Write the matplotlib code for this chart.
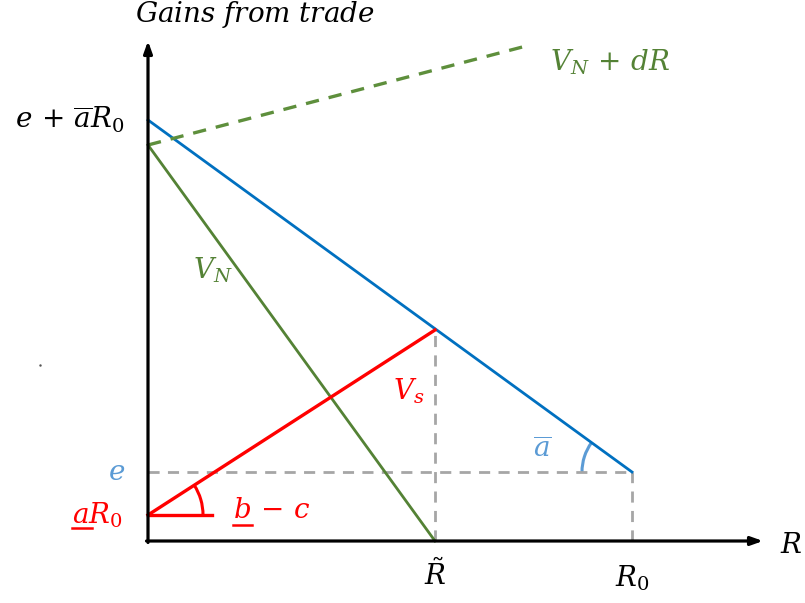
import numpy as np
import matplotlib
matplotlib.use("Agg")
import matplotlib.pyplot as plt
from matplotlib.patches import Arc

plt.rcParams["mathtext.fontset"] = "dejavuserif"

# schematic values (diagram units, origin at the axes corner)
R_tilde = 287
R0 = 484
e = 69
aR0_low = 26          # underline-a * R0
top_blue = 421        # e + abar*R0
vn_icpt = 396         # V_N intercept
vn_dR_end = (382, 496)
vs_peak = 211

BLUE = "#0070C0"
LBLUE = "#5B9BD5"
GREEN = "#548235"
RED = "#FF0000"
GRAY = "#A6A6A6"

fig = plt.figure(figsize=(8.05, 6.03), dpi=100)
ax = fig.add_axes([0, 0, 1, 1])
ax.set_xlim(-148, 657)
ax.set_ylim(-62, 541)
ax.axis("off")

# axes arrows
ax.annotate("", xy=(0, 500), xytext=(0, -1.5),
            arrowprops=dict(arrowstyle="-|>,head_length=0.7,head_width=0.25", lw=2.3, color="black",
                            shrinkA=0, shrinkB=0))
ax.annotate("", xy=(615, 0), xytext=(-1.5, 0),
            arrowprops=dict(arrowstyle="-|>,head_length=0.7,head_width=0.25", lw=2.3, color="black",
                            shrinkA=0, shrinkB=0))

# gray dashed guides
ax.plot([0, R0], [e, e], ls=(0, (4, 3)), color=GRAY, lw=2)
ax.plot([R_tilde, R_tilde], [0, vs_peak], ls=(0, (4, 3)), color=GRAY, lw=2)
ax.plot([R0, R0], [0, e], ls=(0, (4, 3)), color=GRAY, lw=2)

# lines
ax.plot([0, R0], [top_blue, e], color=BLUE, lw=2)
ax.plot([0, R_tilde], [vn_icpt, 0], color=GREEN, lw=2)
ax.plot([0, vn_dR_end[0]], [vn_icpt, vn_dR_end[1]], color="#5E8F3C", lw=2.4, ls=(0, (4, 3)))
ax.plot([0, R_tilde], [aR0_low, vs_peak], color=RED, lw=2.4)
ax.plot([0, 64], [aR0_low, aR0_low], color=RED, lw=2.4)

# angle arcs
ang_red = np.degrees(np.arctan2(vs_peak - aR0_low, R_tilde))
ax.add_patch(Arc((0, aR0_low), 110, 110, theta1=0, theta2=ang_red, color=RED, lw=2.2))
ang_blue = np.degrees(np.arctan2(top_blue - e, R0))
ax.add_patch(Arc((R0, e), 100, 100, theta1=180 - ang_blue, theta2=180, color=LBLUE, lw=2.2))

# labels
fs = 20
ax.text(-13, 527, r"$Gains\ from\ trade$", fontsize=fs, ha="left", va="center")
ax.text(-23, top_blue, r"$e\,+\,\overline{a}R_0$", fontsize=fs, ha="right", va="center")
ax.text(-23, e, r"$e$", fontsize=fs, ha="right", va="center", color=LBLUE)
ax.text(-76, aR0_low, r"$aR_0$", fontsize=fs, ha="left", va="center", color=RED)
ax.plot([-76, -56], [aR0_low - 13, aR0_low - 13], color=RED, lw=1.8)
ax.text(85, aR0_low + 5, r"$b\,-\,c$", fontsize=fs, ha="left", va="center", color=RED)
ax.plot([85, 104], [aR0_low - 10, aR0_low - 10], color=RED, lw=1.8)
ax.text(45, 271, r"$V_N$", fontsize=fs, ha="left", va="center", color=GREEN)
ax.text(245, 150, r"$V_s$", fontsize=fs, ha="left", va="center", color=RED)
ax.text(385, 92, r"$\overline{a}$", fontsize=fs, ha="left", va="center", color=LBLUE)
ax.text(402, 479, r"$V_N\,+\,dR$", fontsize=fs, ha="left", va="center", color="#548235")
ax.text(R_tilde, -34, r"$\tilde{R}$", fontsize=fs, ha="center", va="center")
ax.text(R0, -37, r"$R_0$", fontsize=fs, ha="center", va="center")
ax.text(643, -4, r"$R$", fontsize=fs, ha="center", va="center")
ax.plot([-108], [176], marker=".", ms=1.5, color="#555555")

fig.savefig("out.png", dpi=100)
